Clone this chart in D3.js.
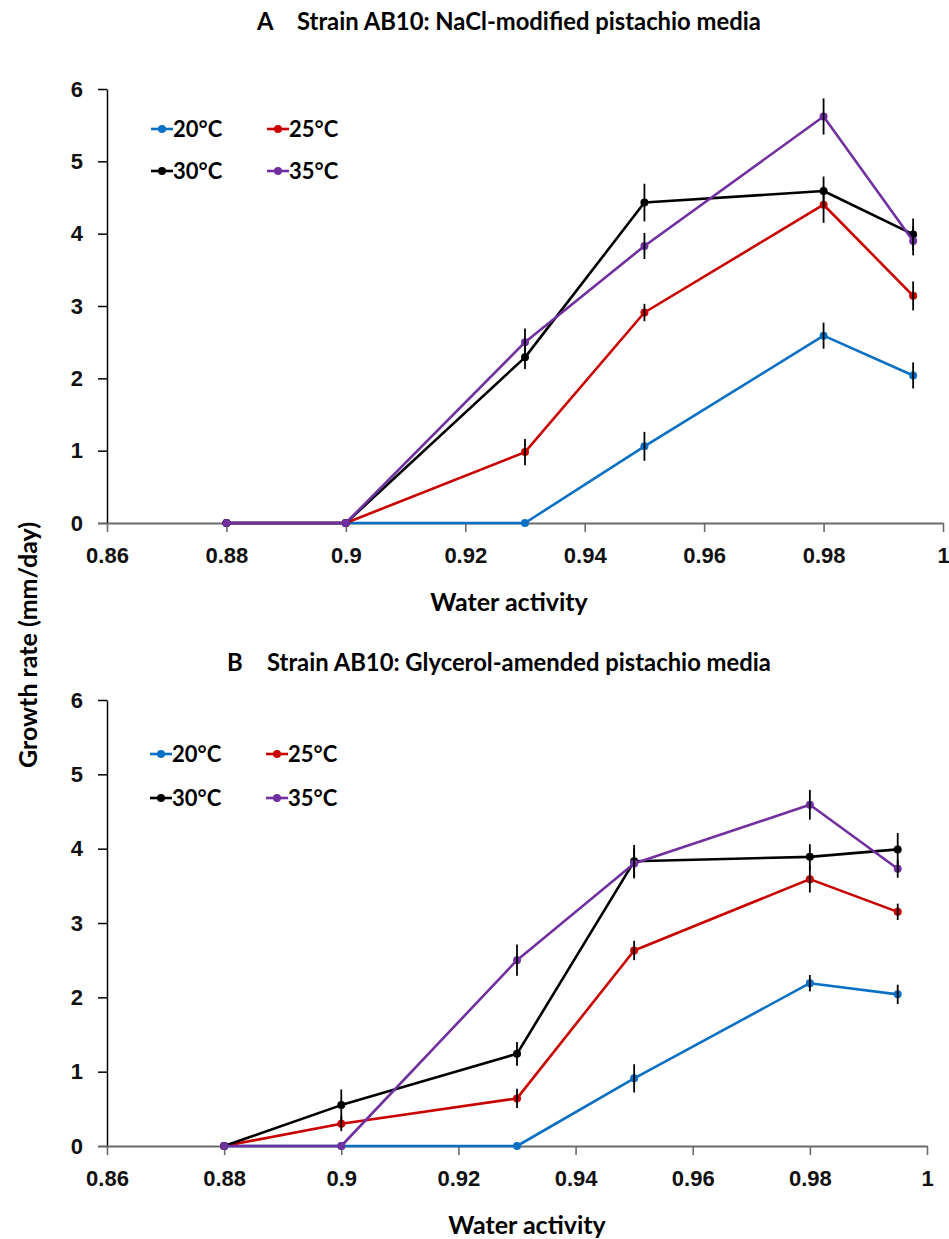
<!DOCTYPE html>
<html>
<head>
<meta charset="utf-8">
<script src="https://cdn.jsdelivr.net/npm/d3@7"></script>
<style>
    body { margin: 0; background: #fff; }
    svg { display: block; font-family: Lato, "Open Sans", sans-serif; font-weight: bold; }
    .tick text { font-size: 22px; font-weight: bold; fill: #111; }
    .title { font-size: 23.8px; }
    .axis-legend { font-size: 25px; }
    .legend-text { font-size: 22px; }
</style>
</head>
<body>
<div id="chart"></div>
<script>
// Data
const waterActivity = [0.88, 0.9, 0.93, 0.95, 0.98, 0.995];
const temperatures = ["20°C", "25°C", "30°C", "35°C"];
const seriesColors = ["#0a70c4", "#c80000", "#000000", "#7030a0"];
const xTicks = [0.86, 0.88, 0.9, 0.92, 0.94, 0.96, 0.98, 1];
const yTicks = [0, 1, 2, 3, 4, 5, 6];

// A: NaCl-modified media
const naclRate20 = [0, 0, 0, 1.06, 2.59, 2.04];
const naclRate25 = [0, 0, 0.98, 2.91, 4.40, 3.14];
const naclRate30 = [0, 0, 2.29, 4.43, 4.59, 3.99];
const naclRate35 = [0, 0, 2.50, 3.83, 5.62, 3.90];
const naclErr20 = [0, 0, 0, 0.20, 0.18, 0.18];
const naclErr25 = [0, 0, 0.18, 0.12, 0.25, 0.20];
const naclErr30 = [0, 0, 0.16, 0.26, 0.20, 0.22];
const naclErr35 = [0, 0, 0.19, 0.18, 0.25, 0.20];

// B: Glycerol-amended media
const glyRate20 = [0, 0, 0, 0.91, 2.19, 2.04];
const glyRate25 = [0, 0.30, 0.64, 2.63, 3.59, 3.15];
const glyRate30 = [0, 0.55, 1.24, 3.83, 3.89, 3.99];
const glyRate35 = [0, 0, 2.50, 3.80, 4.59, 3.73];
const glyErr20 = [0, 0, 0, 0.19, 0.11, 0.13];
const glyErr25 = [0, 0.10, 0.13, 0.13, 0.18, 0.11];
const glyErr30 = [0, 0.21, 0.16, 0.22, 0.17, 0.22];
const glyErr35 = [0, 0, 0.21, 0.20, 0.20, 0.12];

const width = 949;
const height = 1239;

let svg = d3.select("#chart")
    .append("svg")
    .attr("width", width)
    .attr("height", height);

// y axis title shared by both panels
svg.append("text")
    .attr("class", "axis-legend")
    .attr("transform", "translate(37, 645) rotate(-90)")
    .attr("text-anchor", "middle")
    .text("Growth rate (mm/day)");

drawPanel({
    letter: "A",
    title: "Strain AB10: NaCl-modified pistachio media",
    letterX: 257, titleX: 297, titleY: 30,
    left: 107, right: 943, top: 89, bottom: 523,
    xLabelX: 509,
    legendX: 151, legendY: 129, legendGap: 42,
    rates: [naclRate20, naclRate25, naclRate30, naclRate35],
    errors: [naclErr20, naclErr25, naclErr30, naclErr35]
});

drawPanel({
    letter: "B",
    title: "Strain AB10: Glycerol-amended pistachio media",
    letterX: 227, titleX: 267, titleY: 671,
    left: 107, right: 927, top: 700, bottom: 1146,
    xLabelX: 527,
    legendX: 150, legendY: 754, legendGap: 44,
    rates: [glyRate20, glyRate25, glyRate30, glyRate35],
    errors: [glyErr20, glyErr25, glyErr30, glyErr35]
});

function drawPanel(p) {
    const xScale = d3.scaleLinear()
        .domain([0.86, 1])
        .range([p.left, p.right]);
    const yScale = d3.scaleLinear()
        .domain([0, 6])
        .range([p.bottom, p.top]);

    const g = svg.append("g");

    // titles
    g.append("text")
        .attr("class", "title")
        .attr("x", p.letterX)
        .attr("y", p.titleY)
        .text(p.letter);
    g.append("text")
        .attr("class", "title")
        .attr("x", p.titleX)
        .attr("y", p.titleY)
        .text(p.title);

    // y axis
    const yAxis = g.append("g")
        .attr("transform", `translate(${p.left}, 0)`)
        .call(d3.axisLeft(yScale).tickValues(yTicks).tickFormat(d3.format("d"))
            .tickSize(9).tickPadding(15).tickSizeOuter(0));
    yAxis.select(".domain").attr("stroke", "#000").attr("stroke-width", 1.5);
    yAxis.selectAll(".tick line").attr("stroke", "#000").attr("stroke-width", 1.5);

    // x axis
    const xAxis = g.append("g")
        .attr("transform", `translate(0, ${p.bottom})`)
        .call(d3.axisBottom(xScale).tickValues(xTicks).tickFormat(d3.format(""))
            .tickSize(9).tickPadding(15).tickSizeOuter(0));
    xAxis.select(".domain").attr("stroke", "#6b6b6b").attr("stroke-width", 2.2);
    xAxis.selectAll(".tick line").attr("stroke", "#6b6b6b").attr("stroke-width", 1.6);
    yAxis.selectAll(".tick").filter(d => d === 0).select("line")
        .attr("stroke", "#6b6b6b").attr("stroke-width", 2.2);

    g.append("text")
        .attr("class", "axis-legend")
        .attr("x", p.xLabelX)
        .attr("y", p.bottom + 88)
        .attr("text-anchor", "middle")
        .text("Water activity");

    // lines and dots
    const lineGenerator = d3.line()
        .x((d, i) => xScale(waterActivity[i]))
        .y(d => yScale(d));

    p.rates.forEach((values, s) => {
        g.append("path")
            .datum(values)
            .attr("fill", "none")
            .attr("stroke", seriesColors[s])
            .attr("stroke-width", 2.6)
            .attr("stroke-linejoin", "round")
            .attr("d", lineGenerator);

        g.selectAll(null)
            .data(values)
          .enter().append("circle")
            .attr("cx", (d, i) => xScale(waterActivity[i]))
            .attr("cy", d => yScale(d))
            .attr("r", 4)
            .attr("fill", seriesColors[s]);
    });

    // error bars on top
    p.rates.forEach((values, s) => {
        g.selectAll(null)
            .data(values.map((v, i) => ({ v, e: p.errors[s][i], i })).filter(d => d.e > 0))
          .enter().append("line")
            .attr("x1", d => xScale(waterActivity[d.i]))
            .attr("x2", d => xScale(waterActivity[d.i]))
            .attr("y1", d => yScale(d.v - d.e))
            .attr("y2", d => yScale(d.v + d.e))
            .attr("stroke", "#000")
            .attr("stroke-width", 1.8);
    });

    // legend
    const legend = g.append("g");
    temperatures.forEach((t, s) => {
        const lx = p.legendX + (s % 2) * 116;
        const ly = p.legendY + Math.floor(s / 2) * p.legendGap;
        legend.append("line")
            .attr("x1", lx).attr("x2", lx + 22)
            .attr("y1", ly).attr("y2", ly)
            .attr("stroke", seriesColors[s])
            .attr("stroke-width", 2.6);
        legend.append("circle")
            .attr("cx", lx + 11).attr("cy", ly)
            .attr("r", 4)
            .attr("fill", seriesColors[s]);
        legend.append("text")
            .attr("class", "legend-text")
            .attr("x", lx + 22)
            .attr("y", ly)
            .attr("dy", "0.36em")
            .text(t);
    });
}
</script>
</body>
</html>
